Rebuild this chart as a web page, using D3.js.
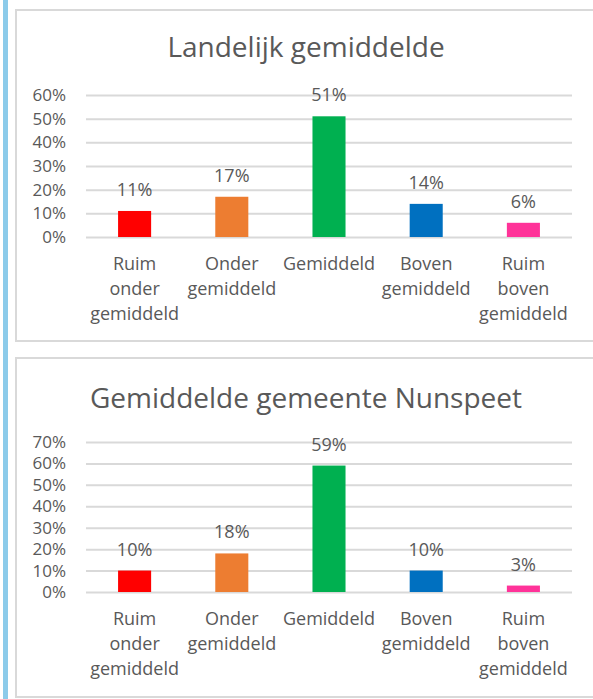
<!DOCTYPE html>
<html>
<head>
<meta charset="utf-8">
<script src="https://cdn.jsdelivr.net/npm/d3@7"></script>
<style>
  body { margin: 0; background: #fff; }
  text { font-family: "Open Sans", sans-serif; fill: #595959; }
</style>
</head>
<body>
<div id="chart"></div>
<script>
// categories (one line per array entry)
var categories = [
  ["Ruim", "onder", "gemiddeld"],
  ["Onder", "gemiddeld"],
  ["Gemiddeld"],
  ["Boven", "gemiddeld"],
  ["Ruim", "boven", "gemiddeld"]
];
var barColors = ["#ff0000", "#ed7d31", "#00b050", "#0070c0", "#ff3399"];

var landelijkValues = [0.11, 0.17, 0.51, 0.14, 0.06];
var landelijkTicks = [0, 0.1, 0.2, 0.3, 0.4, 0.5, 0.6];

var nunspeetValues = [0.10, 0.18, 0.59, 0.10, 0.03];
var nunspeetTicks = [0, 0.1, 0.2, 0.3, 0.4, 0.5, 0.6, 0.7];

var W = 593, H = 699;

var svg = d3.select("#chart").append("svg")
  .attr("width", W)
  .attr("height", H);

// blue strip on the left
svg.append("rect")
  .attr("x", 3).attr("y", 0)
  .attr("width", 5).attr("height", H)
  .style("fill", "#8ccbea");

function drawPanel(opts) {
  var g = svg.append("g");

  // panel frame
  g.append("rect")
    .attr("x", 16).attr("y", opts.top)
    .attr("width", 600).attr("height", opts.bottom - opts.top)
    .style("fill", "#fff")
    .style("stroke", "#d9d9d9")
    .style("stroke-width", 2);

  g.append("text")
    .attr("x", 306).attr("y", opts.titleY)
    .attr("text-anchor", "middle")
    .style("font-size", opts.titleSize + "px")
    .text(opts.title);

  var x = d3.scaleBand()
    .domain(d3.range(categories.length))
    .range([86, 572])
    .paddingInner(0.66)
    .paddingOuter(0.33);

  var y = d3.scaleLinear()
    .domain([0, d3.max(opts.ticks)])
    .range([opts.y0, opts.yTop]);

  // gridlines + tick labels
  var yAxis = d3.axisLeft(y)
    .tickValues(opts.ticks)
    .tickFormat(d3.format(".0%"))
    .tickSize(-(572 - 86))
    .tickPadding(20);

  var ax = g.append("g")
    .attr("transform", "translate(86,0)")
    .call(yAxis);
  ax.select(".domain").remove();
  ax.selectAll("line")
    .style("stroke", "#d9d9d9")
    .style("stroke-width", 2);
  ax.selectAll("text")
    .style("font-size", "17px")
    .style("font-family", "Open Sans, sans-serif")
    .style("fill", "#595959");

  // bars
  g.selectAll(".bar")
    .data(opts.values)
    .enter().append("rect")
    .attr("class", "bar")
    .attr("x", function(d, i) { return x(i); })
    .attr("y", function(d) { return y(d); })
    .attr("width", x.bandwidth())
    .attr("height", function(d) { return y(0) - y(d); })
    .style("fill", function(d, i) { return barColors[i]; });

  // data labels
  g.selectAll(".val")
    .data(opts.values)
    .enter().append("text")
    .attr("class", "val")
    .attr("x", function(d, i) { return x(i) + x.bandwidth() / 2; })
    .attr("y", function(d) { return y(d) - 15; })
    .attr("text-anchor", "middle")
    .style("font-size", "18px")
    .text(d3.format(".0%"));

  // category labels
  var cat = g.selectAll(".cat")
    .data(categories)
    .enter().append("text")
    .attr("class", "cat")
    .attr("text-anchor", "middle")
    .style("font-size", "18px");

  cat.selectAll("tspan")
    .data(function(d, i) { return d.map(function(s) { return {s: s, i: i}; }); })
    .enter().append("tspan")
    .attr("x", function(d) { return x(d.i) + x.bandwidth() / 2; })
    .attr("y", function(d, j) { return opts.y0 + 33 + j * 25; })
    .text(function(d) { return d.s; });
}

drawPanel({
  top: 10, bottom: 341,
  title: "Landelijk gemiddelde", titleY: 57, titleSize: 28,
  values: landelijkValues, ticks: landelijkTicks,
  y0: 237, yTop: 95
});

drawPanel({
  top: 358, bottom: 697,
  title: "Gemiddelde gemeente Nunspeet", titleY: 408, titleSize: 28,
  values: nunspeetValues, ticks: nunspeetTicks,
  y0: 592, yTop: 442
});
</script>
</body>
</html>
